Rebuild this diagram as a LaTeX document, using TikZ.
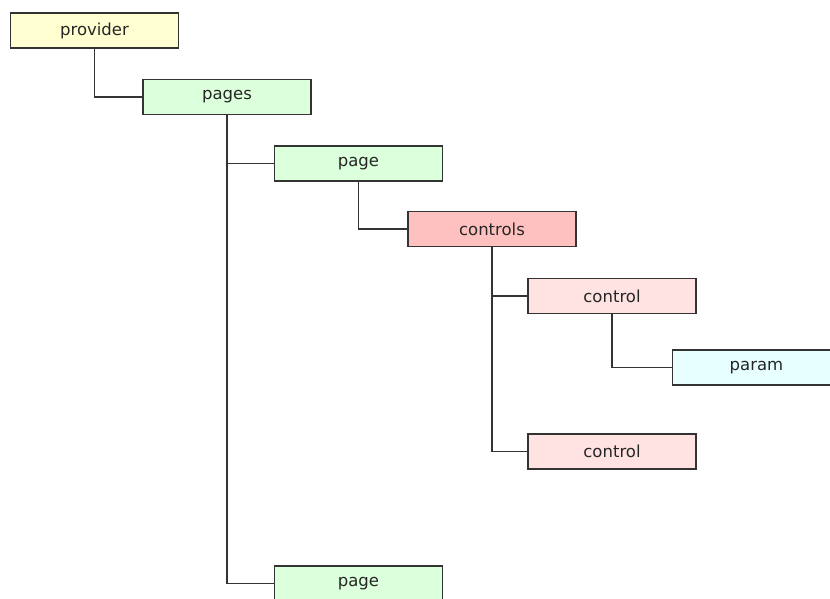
\documentclass[tikz,border=0pt]{standalone}
\usepackage{fontspec}
\setmainfont{DejaVu Sans}
\definecolor{provfill}{HTML}{FFFFD2}
\definecolor{pagefill}{HTML}{DCFFDC}
\definecolor{ctrlsfill}{HTML}{FFC0C0}
\definecolor{ctrlfill}{HTML}{FFE2E2}
\definecolor{paramfill}{HTML}{E8FFFF}
\definecolor{edgegray}{HTML}{333333}

\begin{document}
\begin{tikzpicture}[x=1pt,y=-1pt,thick,
  elem/.style={rectangle,draw=edgegray,line width=1.2pt,minimum width=168,minimum height=35,inner sep=0pt,text=black!85,font=\fontsize{16.5}{18}\selectfont},
  link/.style={draw=edgegray,line width=1.2pt}]

  \useasboundingbox (0,0) rectangle (830,599);
  \clip (0,0) rectangle (830,599);

  \node [elem, fill=provfill] (provider) at (94.5, 30.5) {provider};
  \node [elem, fill=pagefill] (pages) at (227, 97) {pages};
  \node [elem, fill=pagefill] (pageA) at (358.5, 163.5) {page};
  \node [elem, fill=ctrlsfill] (controls) at (492, 229) {controls};
  \node [elem, fill=ctrlfill] (controlA) at (612, 296) {control};
  \node [elem, fill=paramfill] (param) at (756.5, 367.5) {param};
  \node [elem, fill=ctrlfill] (controlB) at (612, 451.5) {control};
  \node [elem, fill=pagefill] (pageB) at (358.5, 583.5) {page};

  \draw [link] (provider.south) |- (pages.west);
  \foreach \kid in {pageA,pageB} {
    \draw [link] (pages.south) |- (\kid.west);
  }
  \draw [link] (pageA.south) |- (controls.west);
  \foreach \kid in {controlA,controlB} {
    \draw [link] (controls.south) |- (\kid.west);
  }
  \draw [link] (controlA.south) |- (param.west);

\end{tikzpicture}
\end{document}
